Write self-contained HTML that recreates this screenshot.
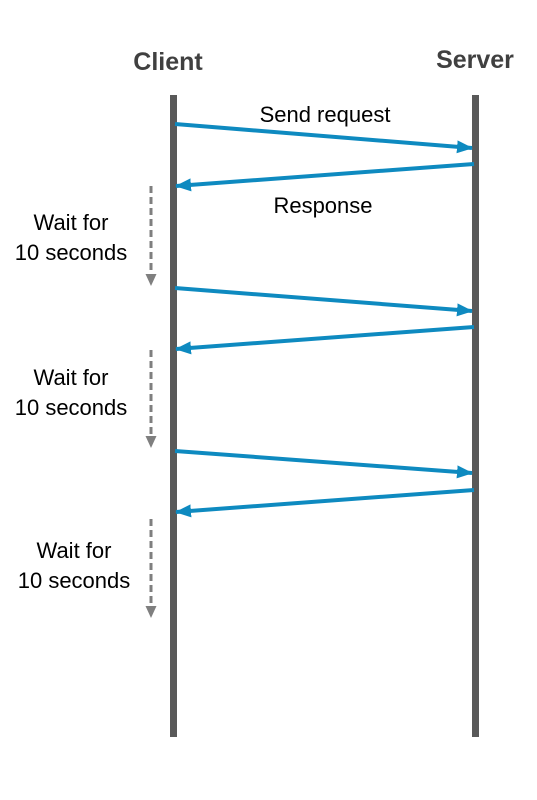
<!DOCTYPE html>
<html><head><style>body{margin:0;background:#fff}</style></head><body>
<svg width="537" height="795" viewBox="0 0 537 795" xmlns="http://www.w3.org/2000/svg" font-family="'Liberation Sans', sans-serif">
<defs>
<marker id="b" markerWidth="18" markerHeight="16" refX="15" refY="8" orient="auto" markerUnits="userSpaceOnUse"><path d="M0,1.5 L16,8 L0,14.5 z" fill="#0e8ac0"/></marker>
<marker id="g" markerWidth="14" markerHeight="14" refX="6" refY="7" orient="auto" markerUnits="userSpaceOnUse"><path d="M0,1.5 L12,7 L0,12.5 z" fill="#7f7f7f"/></marker>
</defs>
<text x="168" y="70" font-size="25" font-weight="bold" fill="#404040" text-anchor="middle">Client</text>
<text x="475" y="68" font-size="25" font-weight="bold" fill="#404040" text-anchor="middle">Server</text>
<rect x="170" y="95" width="7" height="642" fill="#595959"/>
<rect x="472" y="95" width="7" height="642" fill="#595959"/>
<g stroke="#0e8ac0" stroke-width="4" marker-end="url(#b)">
<line x1="175" y1="124" x2="472" y2="148"/>
<line x1="474" y1="164" x2="176" y2="186"/>
<line x1="175" y1="288" x2="472" y2="311"/>
<line x1="474" y1="327" x2="176" y2="349"/>
<line x1="175" y1="451" x2="472" y2="473"/>
<line x1="474" y1="490" x2="176" y2="512"/>
</g>
<g stroke="#7f7f7f" stroke-width="3" stroke-dasharray="7,4" marker-end="url(#g)">
<line x1="151" y1="186" x2="151" y2="280"/>
<line x1="151" y1="350" x2="151" y2="442"/>
<line x1="151" y1="519" x2="151" y2="612"/>
</g>
<g font-size="22" fill="#000" text-anchor="middle">
<text x="325" y="122">Send request</text>
<text x="323" y="213">Response</text>
<text x="71" y="230">Wait for</text><text x="71" y="260">10 seconds</text>
<text x="71" y="385">Wait for</text><text x="71" y="415">10 seconds</text>
<text x="74" y="558">Wait for</text><text x="74" y="588">10 seconds</text>
</g>
</svg>
</body></html>
